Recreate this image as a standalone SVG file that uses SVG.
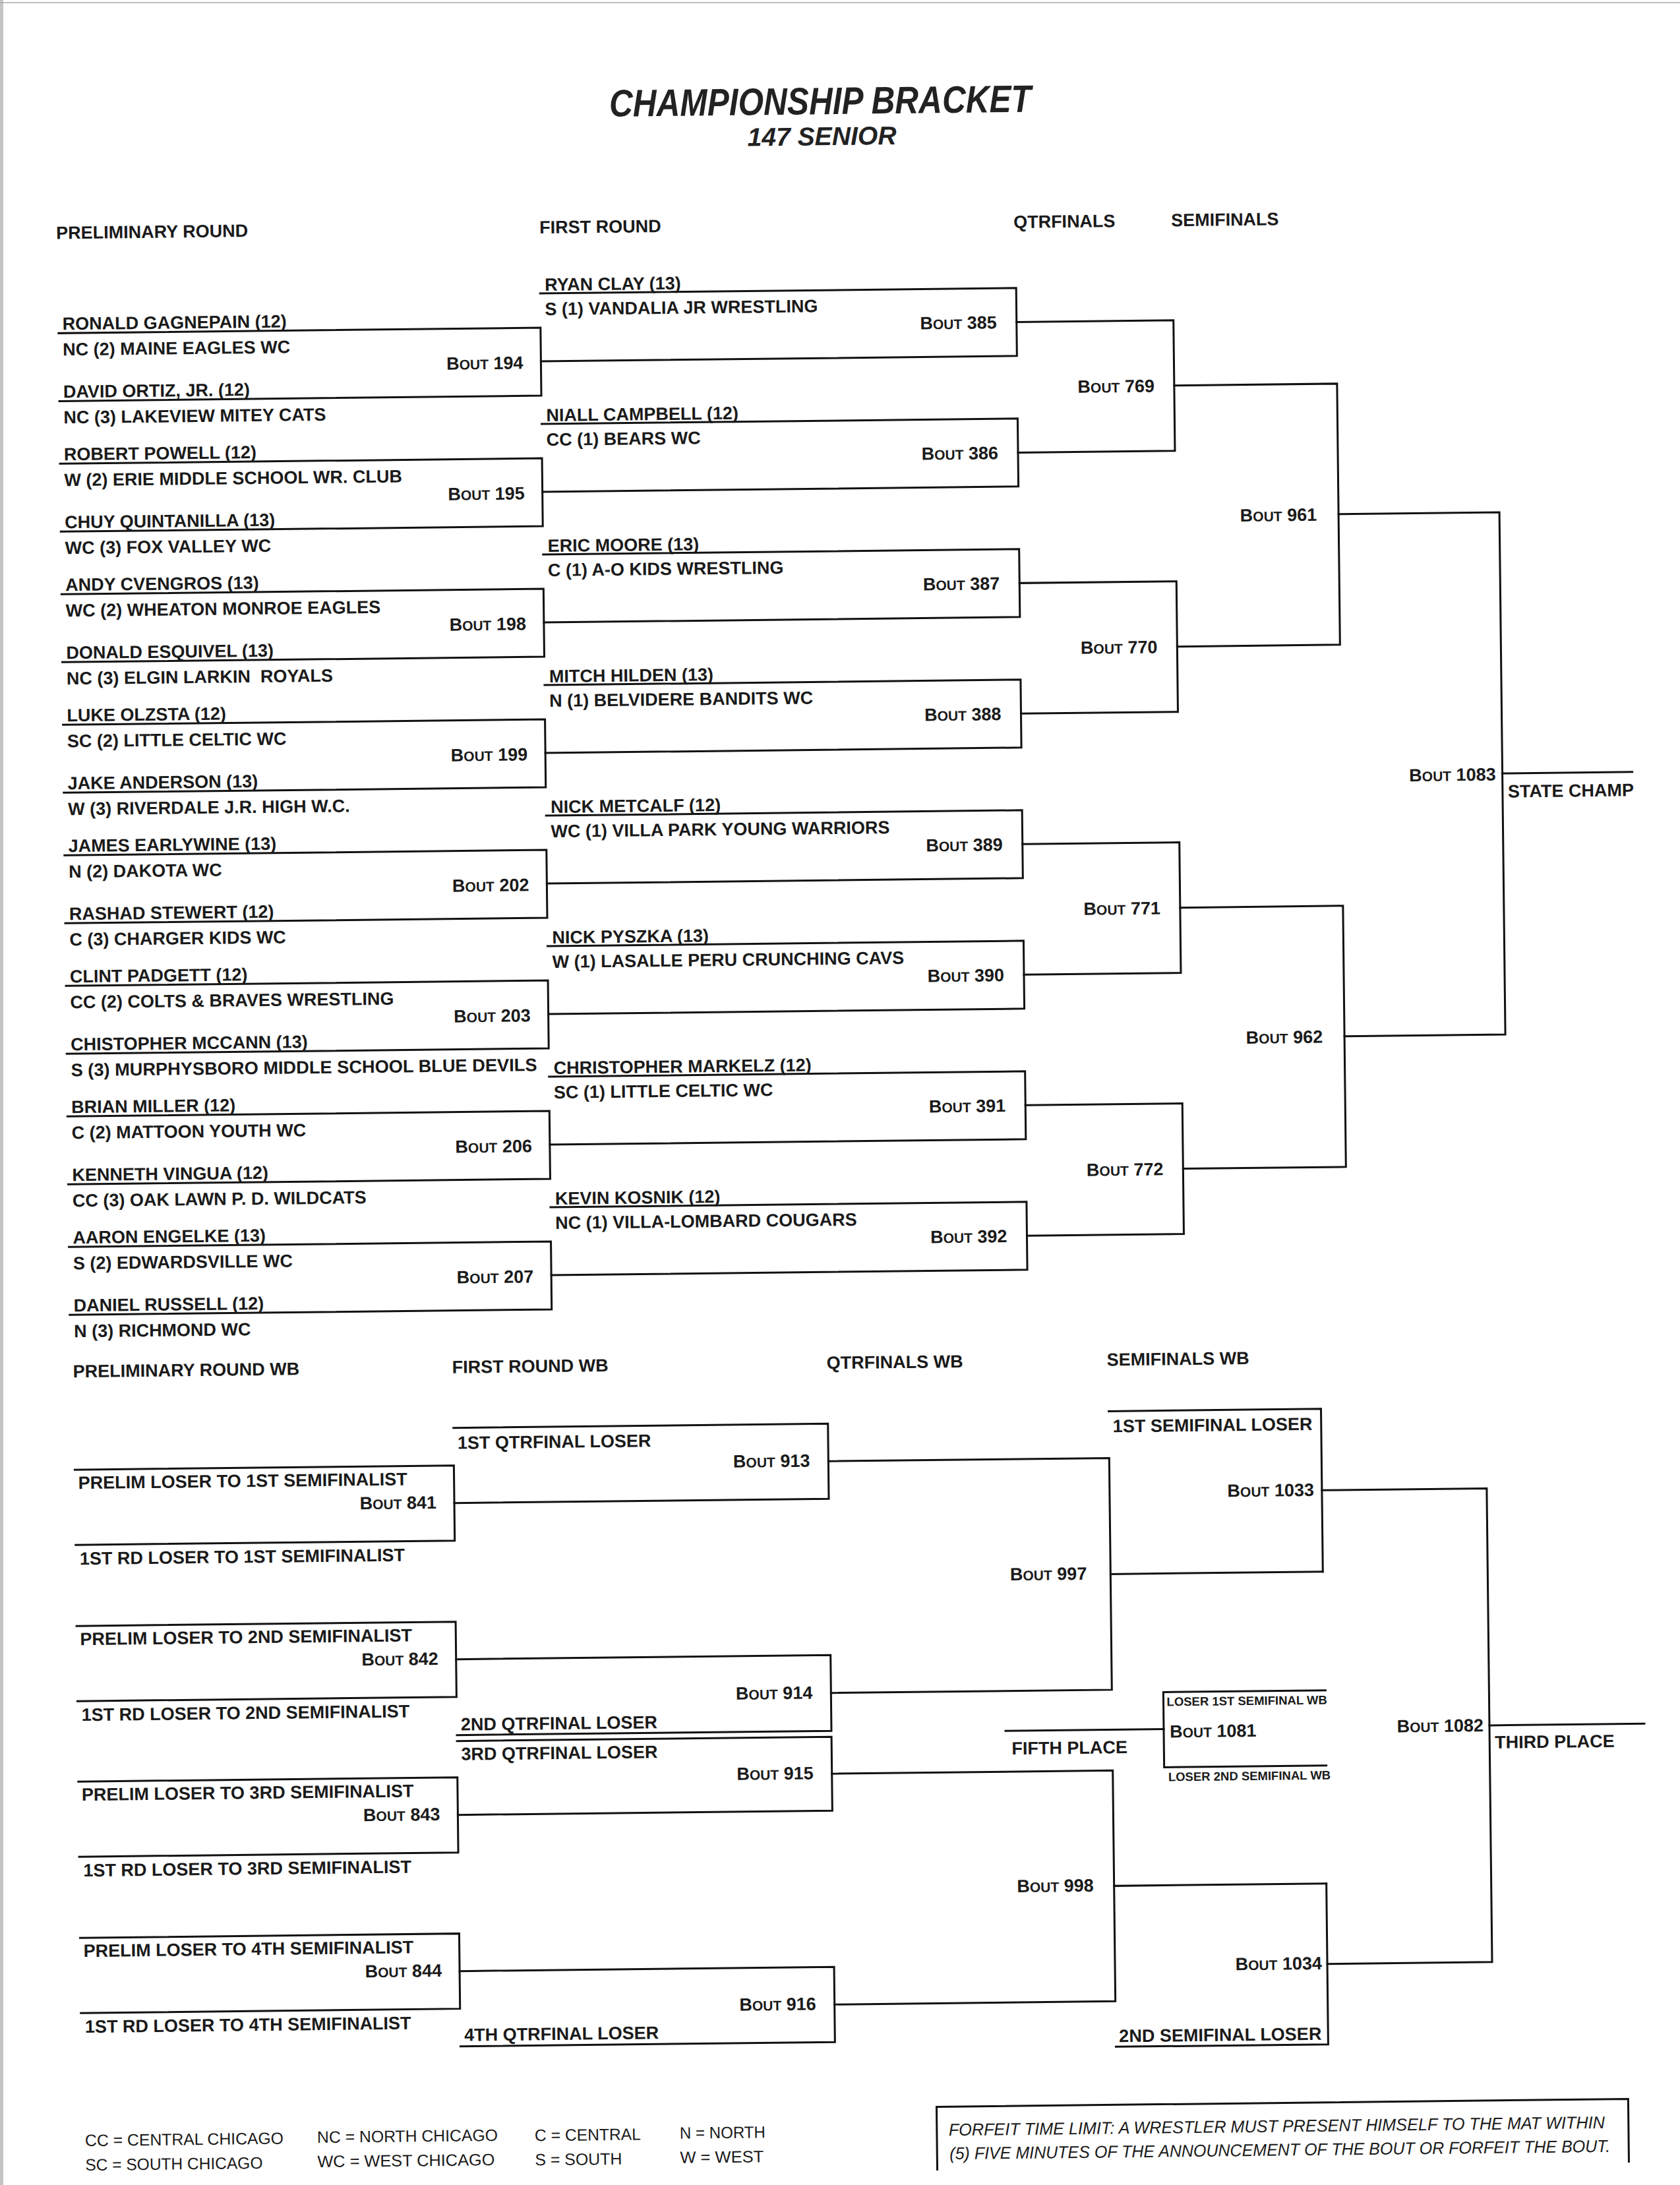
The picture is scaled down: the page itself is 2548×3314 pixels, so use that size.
<svg xmlns="http://www.w3.org/2000/svg" width="2548" height="3314" viewBox="0 0 2548 3314">
<style>
.ln{fill:none;stroke:#111;stroke-width:3;stroke-linejoin:miter;stroke-linecap:square}
.t{font-family:"Liberation Sans",Arial,sans-serif;font-weight:bold;font-size:27px;fill:#1a1a1a}
.b{text-anchor:end}
.sc{font-size:21px}
.sm{font-size:18.5px}
.lg{font-family:"Liberation Sans",Arial,sans-serif;font-size:25px;fill:#1a1a1a}
.ti{font-family:"Liberation Sans",Arial,sans-serif;font-weight:bold;font-style:italic;fill:#222;text-anchor:middle}
.ff{font-family:"Liberation Sans",Arial,sans-serif;font-style:italic;font-size:26px;fill:#1a1a1a}
</style>
<rect width="2548" height="3314" fill="#fff"/>
<rect x="0" y="0" width="5" height="3314" fill="#c4c4c4"/>
<line x1="0" y1="4" x2="2548" y2="4" stroke="#aaa" stroke-width="1.5"/>
<g transform="rotate(-0.65 1274 1657)">
<g id="title">
<text class="ti" x="1261" y="173" font-size="58" textLength="640" lengthAdjust="spacingAndGlyphs">CHAMPIONSHIP BRACKET</text>
<text class="ti" x="1263" y="220" font-size="39" textLength="226" lengthAdjust="spacingAndGlyphs">147 SENIOR</text>
</g>
<g id="headers">
<text class="t" x="100" y="349">PRELIMINARY ROUND</text>
<text class="t" x="833" y="349">FIRST ROUND</text>
<text class="t" x="1552" y="349">QTRFINALS</text>
<text class="t" x="1791" y="349">SEMIFINALS</text>
<text class="t" x="106" y="2076">PRELIMINARY ROUND WB</text>
<text class="t" x="681" y="2076">FIRST ROUND WB</text>
<text class="t" x="1249" y="2076">QTRFINALS WB</text>
<text class="t" x="1674" y="2076">SEMIFINALS WB</text>
</g>

<g id="bout194"><path class="ln" d="M102,492 H833 V595 H102"/>
<text class="t" x="108" y="487">RONALD GAGNEPAIN (12)</text><text class="t" x="108" y="526">NC (2) MAINE EAGLES WC</text>
<text class="t" x="108" y="590">DAVID ORTIZ, JR. (12)</text><text class="t" x="108" y="629">NC (3) LAKEVIEW MITEY CATS</text>
<text class="t b" x="806" y="554">B<tspan class="sc">OUT</tspan> 194</text></g>
<g id="bout195"><path class="ln" d="M102,690 H833 V793 H102"/>
<text class="t" x="108" y="685">ROBERT POWELL (12)</text><text class="t" x="108" y="724">W (2) ERIE MIDDLE SCHOOL WR. CLUB</text>
<text class="t" x="108" y="788">CHUY QUINTANILLA (13)</text><text class="t" x="108" y="827">WC (3) FOX VALLEY WC</text>
<text class="t b" x="806" y="752">B<tspan class="sc">OUT</tspan> 195</text></g>
<g id="bout198"><path class="ln" d="M102,888 H833 V991 H102"/>
<text class="t" x="108" y="883">ANDY CVENGROS (13)</text><text class="t" x="108" y="922">WC (2) WHEATON MONROE EAGLES</text>
<text class="t" x="108" y="986">DONALD ESQUIVEL (13)</text><text class="t" x="108" y="1025" xml:space="preserve">NC (3) ELGIN LARKIN  ROYALS</text>
<text class="t b" x="806" y="950">B<tspan class="sc">OUT</tspan> 198</text></g>
<g id="bout199"><path class="ln" d="M102,1086 H833 V1189 H102"/>
<text class="t" x="108" y="1081">LUKE OLZSTA (12)</text><text class="t" x="108" y="1120">SC (2) LITTLE CELTIC WC</text>
<text class="t" x="108" y="1184">JAKE ANDERSON (13)</text><text class="t" x="108" y="1223">W (3) RIVERDALE J.R. HIGH W.C.</text>
<text class="t b" x="806" y="1148">B<tspan class="sc">OUT</tspan> 199</text></g>
<g id="bout202"><path class="ln" d="M102,1284 H833 V1387 H102"/>
<text class="t" x="108" y="1279">JAMES EARLYWINE (13)</text><text class="t" x="108" y="1318">N (2) DAKOTA WC</text>
<text class="t" x="108" y="1382">RASHAD STEWERT (12)</text><text class="t" x="108" y="1421">C (3) CHARGER KIDS WC</text>
<text class="t b" x="806" y="1346">B<tspan class="sc">OUT</tspan> 202</text></g>
<g id="bout203"><path class="ln" d="M102,1482 H833 V1585 H102"/>
<text class="t" x="108" y="1477">CLINT PADGETT (12)</text><text class="t" x="108" y="1516">CC (2) COLTS &amp; BRAVES WRESTLING</text>
<text class="t" x="108" y="1580">CHISTOPHER MCCANN (13)</text><text class="t" x="108" y="1619" textLength="707" lengthAdjust="spacingAndGlyphs">S (3) MURPHYSBORO MIDDLE SCHOOL BLUE DEVILS</text>
<text class="t b" x="806" y="1544">B<tspan class="sc">OUT</tspan> 203</text></g>
<g id="bout206"><path class="ln" d="M102,1680 H833 V1783 H102"/>
<text class="t" x="108" y="1675">BRIAN MILLER (12)</text><text class="t" x="108" y="1714">C (2) MATTOON YOUTH WC</text>
<text class="t" x="108" y="1778">KENNETH VINGUA (12)</text><text class="t" x="108" y="1817">CC (3) OAK LAWN P. D. WILDCATS</text>
<text class="t b" x="806" y="1742">B<tspan class="sc">OUT</tspan> 206</text></g>
<g id="bout207"><path class="ln" d="M102,1878 H833 V1981 H102"/>
<text class="t" x="108" y="1873">AARON ENGELKE (13)</text><text class="t" x="108" y="1912">S (2) EDWARDSVILLE WC</text>
<text class="t" x="108" y="1976">DANIEL RUSSELL (12)</text><text class="t" x="108" y="2015">N (3) RICHMOND WC</text>
<text class="t b" x="806" y="1940">B<tspan class="sc">OUT</tspan> 207</text></g>

<g id="bout385"><path class="ln" d="M833,440 H1555 V543 H833"/>
<text class="t" x="840" y="436">RYAN CLAY (13)</text><text class="t" x="840" y="473">S (1) VANDALIA JR WRESTLING</text>
<text class="t b" x="1525" y="501">B<tspan class="sc">OUT</tspan> 385</text></g>
<g id="bout386"><path class="ln" d="M833,638 H1555 V741 H833"/>
<text class="t" x="840" y="634">NIALL CAMPBELL (12)</text><text class="t" x="840" y="671">CC (1) BEARS WC</text>
<text class="t b" x="1525" y="699">B<tspan class="sc">OUT</tspan> 386</text></g>
<g id="bout387"><path class="ln" d="M833,836 H1555 V939 H833"/>
<text class="t" x="840" y="832">ERIC MOORE (13)</text><text class="t" x="840" y="869">C (1) A-O KIDS WRESTLING</text>
<text class="t b" x="1525" y="897">B<tspan class="sc">OUT</tspan> 387</text></g>
<g id="bout388"><path class="ln" d="M833,1034 H1555 V1137 H833"/>
<text class="t" x="840" y="1030">MITCH HILDEN (13)</text><text class="t" x="840" y="1067">N (1) BELVIDERE BANDITS WC</text>
<text class="t b" x="1525" y="1095">B<tspan class="sc">OUT</tspan> 388</text></g>
<g id="bout389"><path class="ln" d="M833,1232 H1555 V1335 H833"/>
<text class="t" x="840" y="1228">NICK METCALF (12)</text><text class="t" x="840" y="1265">WC (1) VILLA PARK YOUNG WARRIORS</text>
<text class="t b" x="1525" y="1293">B<tspan class="sc">OUT</tspan> 389</text></g>
<g id="bout390"><path class="ln" d="M833,1430 H1555 V1533 H833"/>
<text class="t" x="840" y="1426">NICK PYSZKA (13)</text><text class="t" x="840" y="1463">W (1) LASALLE PERU CRUNCHING CAVS</text>
<text class="t b" x="1525" y="1491">B<tspan class="sc">OUT</tspan> 390</text></g>
<g id="bout391"><path class="ln" d="M833,1628 H1555 V1731 H833"/>
<text class="t" x="840" y="1624">CHRISTOPHER MARKELZ (12)</text><text class="t" x="840" y="1661">SC (1) LITTLE CELTIC WC</text>
<text class="t b" x="1525" y="1689">B<tspan class="sc">OUT</tspan> 391</text></g>
<g id="bout392"><path class="ln" d="M833,1826 H1555 V1929 H833"/>
<text class="t" x="840" y="1822">KEVIN KOSNIK (12)</text><text class="t" x="840" y="1859">NC (1) VILLA-LOMBARD COUGARS</text>
<text class="t b" x="1525" y="1887">B<tspan class="sc">OUT</tspan> 392</text></g>

<g id="bout769"><text class="t b" x="1763" y="600">B<tspan class="sc">OUT</tspan> 769</text></g>
<g id="bout770"><text class="t b" x="1763" y="996">B<tspan class="sc">OUT</tspan> 770</text></g>
<g id="bout771"><text class="t b" x="1763" y="1392">B<tspan class="sc">OUT</tspan> 771</text></g>
<g id="bout772"><text class="t b" x="1763" y="1788">B<tspan class="sc">OUT</tspan> 772</text></g>
<g id="bout961"><text class="t b" x="2007" y="798">B<tspan class="sc">OUT</tspan> 961</text></g>
<g id="bout962"><text class="t b" x="2007" y="1590">B<tspan class="sc">OUT</tspan> 962</text></g>
<g id="bout1083"><text class="t b" x="2274" y="1195">B<tspan class="sc">OUT</tspan> 1083</text>
<text class="t" x="2292" y="1221">STATE CHAMP</text></g>

<g id="bout841"><path class="ln" d="M107,2216 H682 V2330 H107"/>
<text class="t" x="112" y="2245">PRELIM LOSER TO 1ST SEMIFINALIST</text><text class="t" x="113" y="2360">1ST RD LOSER TO 1ST SEMIFINALIST</text>
<text class="t b" x="655" y="2281">B<tspan class="sc">OUT</tspan> 841</text></g>
<g id="bout842"><path class="ln" d="M107,2453 H682 V2567 H107"/>
<text class="t" x="112" y="2482">PRELIM LOSER TO 2ND SEMIFINALIST</text><text class="t" x="113" y="2597">1ST RD LOSER TO 2ND SEMIFINALIST</text>
<text class="t b" x="655" y="2518">B<tspan class="sc">OUT</tspan> 842</text></g>
<g id="bout843"><path class="ln" d="M107,2689 H682 V2803 H107"/>
<text class="t" x="112" y="2718">PRELIM LOSER TO 3RD SEMIFINALIST</text><text class="t" x="113" y="2833">1ST RD LOSER TO 3RD SEMIFINALIST</text>
<text class="t b" x="655" y="2754">B<tspan class="sc">OUT</tspan> 843</text></g>
<g id="bout844"><path class="ln" d="M107,2926 H682 V3040 H107"/>
<text class="t" x="112" y="2955">PRELIM LOSER TO 4TH SEMIFINALIST</text><text class="t" x="113" y="3070">1ST RD LOSER TO 4TH SEMIFINALIST</text>
<text class="t b" x="655" y="2991">B<tspan class="sc">OUT</tspan> 844</text></g>

<g id="bout913"><path class="ln" d="M682,2159 H1250 V2273 H682"/>
<text class="t" x="688" y="2191">1ST QTRFINAL LOSER</text>
<text class="t b" x="1222" y="2224">B<tspan class="sc">OUT</tspan> 913</text></g>
<g id="bout914"><path class="ln" d="M682,2510 H1250 V2625 H682"/>
<text class="t" x="688" y="2618">2ND QTRFINAL LOSER</text>
<text class="t b" x="1222" y="2576">B<tspan class="sc">OUT</tspan> 914</text></g>
<g id="bout915"><path class="ln" d="M682,2634 H1250 V2746 H682"/>
<text class="t" x="688" y="2663">3RD QTRFINAL LOSER</text>
<text class="t b" x="1222" y="2698">B<tspan class="sc">OUT</tspan> 915</text></g>
<g id="bout916"><path class="ln" d="M682,2983 H1250 V3097 H682"/>
<text class="t" x="688" y="3089">4TH QTRFINAL LOSER</text>
<text class="t b" x="1222" y="3048">B<tspan class="sc">OUT</tspan> 916</text></g>

<g id="bout997"><text class="t b" x="1640" y="2400">B<tspan class="sc">OUT</tspan> 997</text></g>
<g id="bout998"><text class="t b" x="1645" y="2873">B<tspan class="sc">OUT</tspan> 998</text></g>
<g id="bout1033"><path class="ln" d="M1676,2145 H1998 V2392"/>
<text class="t" x="1682" y="2177">1ST SEMIFINAL LOSER</text>
<text class="t b" x="1986" y="2277">B<tspan class="sc">OUT</tspan> 1033</text></g>
<g id="bout1034"><path class="ln" d="M1998,2865 V3109 H1676"/>
<text class="t" x="1681" y="3102">2ND SEMIFINAL LOSER</text>
<text class="t b" x="1990" y="2995">B<tspan class="sc">OUT</tspan> 1034</text></g>
<g id="bout1081"><path class="ln" d="M2000,2572 H1754 V2686 H2000"/>
<text class="t sm" x="1759" y="2593">LOSER 1ST SEMIFINAL WB</text>
<text class="t" x="1763" y="2641">B<tspan class="sc">OUT</tspan> 1081</text>
<text class="t sm" x="1760" y="2707">LOSER 2ND SEMIFINAL WB</text>
<text class="t" x="1523" y="2664">FIFTH PLACE</text></g>
<g id="bout1082"><text class="t b" x="2239" y="2637">B<tspan class="sc">OUT</tspan> 1082</text>
<text class="t" x="2256" y="2663">THIRD PLACE</text></g>

<g id="connectors">
<path class="ln" d="M1555,491.5 H1793 V689.5 H1555"/>
<path class="ln" d="M1555,887.5 H1793 V1085.5 H1555"/>
<path class="ln" d="M1555,1283.5 H1793 V1481.5 H1555"/>
<path class="ln" d="M1555,1679.5 H1793 V1877.5 H1555"/>
<path class="ln" d="M1793,590.5 H2040 V986.5 H1793"/>
<path class="ln" d="M1793,1382.5 H2040 V1778.5 H1793"/>
<path class="ln" d="M2040,788.5 H2284 V1580.5 H2040"/>
<path class="ln" d="M2284,1184.5 H2481"/>
<path class="ln" d="M1250,2216 H1676 V2567.5 H1250"/>
<path class="ln" d="M1250,2690 H1676 V3040 H1250"/>
<path class="ln" d="M1676,2392 H1998"/>
<path class="ln" d="M1676,2865 H1998"/>
<path class="ln" d="M1998,2268.5 H2248 V2987 H1998"/>
<path class="ln" d="M2248,2628 H2483"/>
<path class="ln" d="M1514,2628 H1754"/>
</g>

<g id="legend">
<text class="lg" x="111" y="3242" textLength="301" lengthAdjust="spacingAndGlyphs">CC = CENTRAL CHICAGO</text>
<text class="lg" x="111" y="3279" textLength="269" lengthAdjust="spacingAndGlyphs">SC = SOUTH CHICAGO</text>
<text class="lg" x="463" y="3241" textLength="274" lengthAdjust="spacingAndGlyphs">NC = NORTH CHICAGO</text>
<text class="lg" x="463" y="3278" textLength="269" lengthAdjust="spacingAndGlyphs">WC = WEST CHICAGO</text>
<text class="lg" x="793" y="3242" textLength="161" lengthAdjust="spacingAndGlyphs">C = CENTRAL</text>
<text class="lg" x="793" y="3279" textLength="132" lengthAdjust="spacingAndGlyphs">S = SOUTH</text>
<text class="lg" x="1013" y="3241" textLength="130" lengthAdjust="spacingAndGlyphs">N = NORTH</text>
<text class="lg" x="1013" y="3278" textLength="127" lengthAdjust="spacingAndGlyphs">W = WEST</text>
</g>
<g id="forfeit">
<path class="ln" d="M1403,3292 V3197 H2452 V3292" stroke-width="3.5"/>
<text class="ff" x="1421" y="3241" textLength="995" lengthAdjust="spacingAndGlyphs">FORFEIT TIME LIMIT: A WRESTLER MUST PRESENT HIMSELF TO THE MAT WITHIN</text>
<text class="ff" x="1422" y="3277" textLength="1002" lengthAdjust="spacingAndGlyphs">(5) FIVE MINUTES OF THE ANNOUNCEMENT OF THE BOUT OR FORFEIT THE BOUT.</text>
</g>
</g>
</svg>
